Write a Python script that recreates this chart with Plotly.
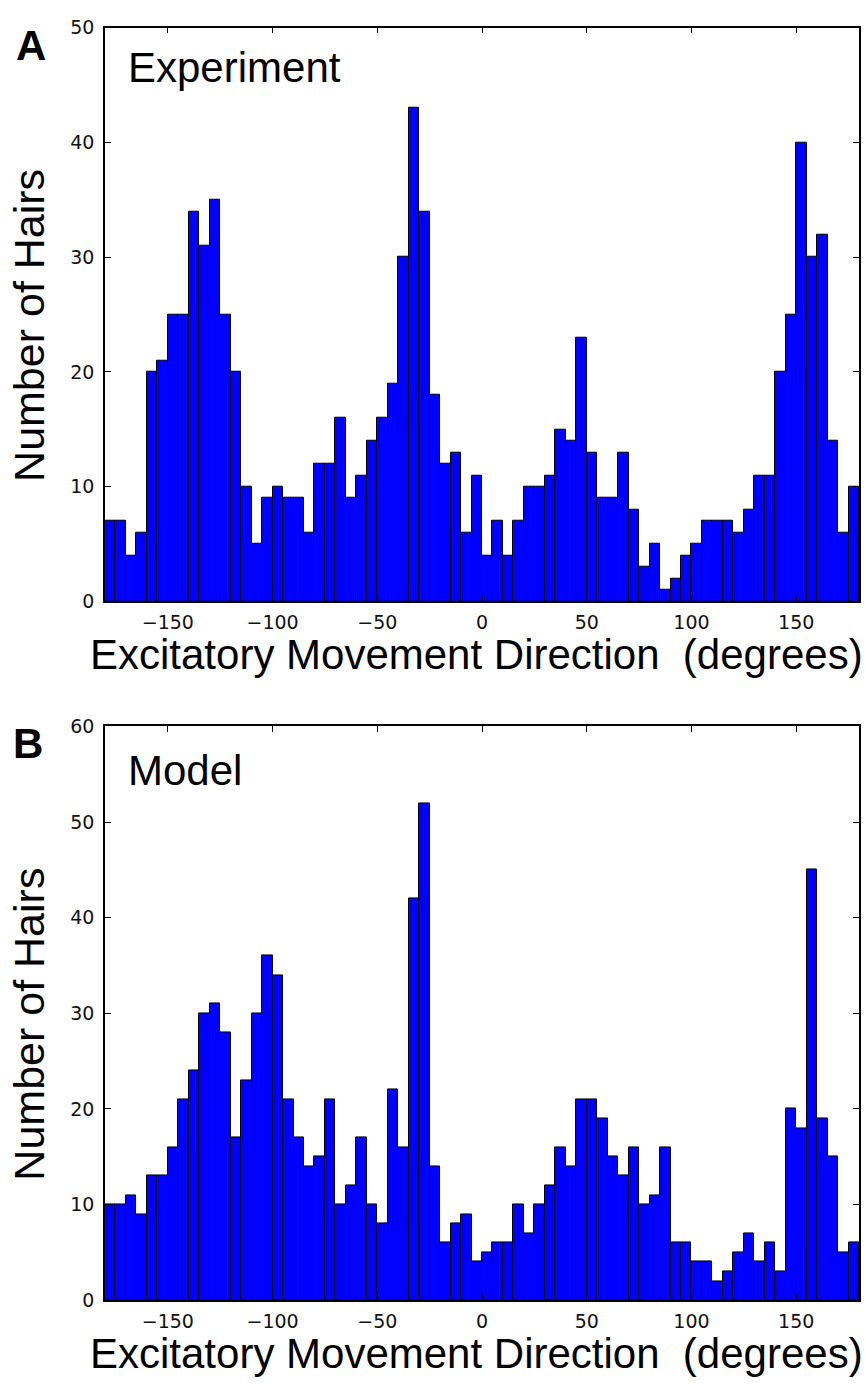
import plotly.graph_objects as go

# Bin left edges (degrees), 5-degree bins from -180 to 175
bin_left = list(range(-180, 180, 5))

experiment_counts = [7, 7, 4, 6, 20, 21, 25, 25, 34, 31, 35, 25, 20, 10, 5, 9, 10, 9, 9, 6,
                     12, 12, 16, 9, 11, 14, 16, 19, 30, 43, 34, 18, 12, 13, 6, 11,
                     4, 7, 4, 7, 10, 10, 11, 15, 14, 23, 13, 9, 9, 13, 8, 3, 5, 1, 2, 4,
                     5, 7, 7, 7, 6, 8, 11, 11, 20, 25, 40, 30, 32, 14, 6, 10]

model_counts = [10, 10, 11, 9, 13, 13, 16, 21, 24, 30, 31, 28, 17, 23, 30, 36, 34, 21, 17, 14,
                15, 21, 10, 12, 17, 10, 8, 22, 16, 42, 52, 14, 6, 8, 9, 4,
                5, 6, 6, 10, 7, 10, 12, 16, 14, 21, 21, 19, 15, 13, 16, 10, 11, 16, 6, 6,
                4, 4, 2, 3, 5, 7, 4, 6, 3, 20, 18, 45, 19, 15, 5, 6]

x_tick_vals = [-150, -100, -50, 0, 50, 100, 150]
x_tick_text = ["\u2212150", "\u2212100", "\u221250", "0", "50", "100", "150"]
yA_ticks = [0, 10, 20, 30, 40, 50]
yB_ticks = [0, 10, 20, 30, 40, 50, 60]

W, H = 866, 1384

def px_x(p):
    return p / W

def px_y(p):
    return (H - p) / H

fig = go.Figure()
fig.add_trace(go.Bar(x=bin_left, y=experiment_counts, width=5, offset=0,
                     marker=dict(color="#0000ff", line=dict(color="black", width=1)),
                     xaxis="x", yaxis="y", showlegend=False))
fig.add_trace(go.Bar(x=bin_left, y=model_counts, width=5, offset=0,
                     marker=dict(color="#0000ff", line=dict(color="black", width=1)),
                     xaxis="x2", yaxis="y2", showlegend=False))

tickfont = dict(family="DejaVu Sans", size=19, color="#111111")
common_x = dict(range=[-180, 180], tickvals=x_tick_vals, ticktext=x_tick_text,
                ticks="inside", ticklen=6, tickcolor="black", showline=True, linecolor="black",
                linewidth=1.5, mirror="ticks", showgrid=False, zeroline=False, tickfont=tickfont,
                ticklabelstandoff=3)
common_y = dict(ticks="inside", ticklen=6, tickcolor="black", showline=True, linecolor="black",
                linewidth=1.5, mirror="ticks", showgrid=False, zeroline=False, tickfont=tickfont,
                ticklabelstandoff=5)

fig.update_layout(
    width=W, height=H,
    margin=dict(l=0, r=0, t=0, b=0),
    paper_bgcolor="white", plot_bgcolor="white",
    bargap=0,
    xaxis=dict(domain=[px_x(105), px_x(859)], anchor="y", **common_x),
    yaxis=dict(domain=[px_y(600), px_y(17)], anchor="x", range=[0, 50], tickvals=yA_ticks, **common_y),
    xaxis2=dict(domain=[px_x(105), px_x(859)], anchor="y2", **common_x),
    yaxis2=dict(domain=[px_y(1310), px_y(727)], anchor="x2", range=[0, 60], tickvals=yB_ticks, **common_y),
)

label_font = dict(family="Liberation Sans, Arial, sans-serif", size=42, color="black")
ylabel_font = dict(family="Liberation Sans, Arial, sans-serif", size=43, color="black")
annotations = [
    dict(text="<b>A</b>", x=px_x(31), y=px_y(35), font=dict(family="Liberation Sans, Arial", size=42, color="black")),
    dict(text="<b>B</b>", x=px_x(28), y=px_y(744), font=dict(family="Liberation Sans, Arial", size=42, color="black")),
    dict(text="Experiment", x=px_x(126), y=px_y(57), xanchor="left", font=label_font),
    dict(text="Model", x=px_x(126), y=px_y(772), xanchor="left", font=label_font),
    dict(text="Excitatory Movement Direction\u00a0 (degrees)", x=px_x(477), y=px_y(654), font=label_font),
    dict(text="Excitatory Movement Direction\u00a0 (degrees)", x=px_x(477), y=px_y(1364), font=label_font),
    dict(text="Number of Hairs", x=px_x(29), y=px_y(320), textangle=-90, font=ylabel_font),
    dict(text="Number of Hairs", x=px_x(29), y=px_y(1030), textangle=-90, font=ylabel_font),
]
for a in annotations:
    a.setdefault("xanchor", "center")
    a.setdefault("yanchor", "middle")
    fig.add_annotation(xref="paper", yref="paper", showarrow=False, **a)

fig.write_html("out.html")
